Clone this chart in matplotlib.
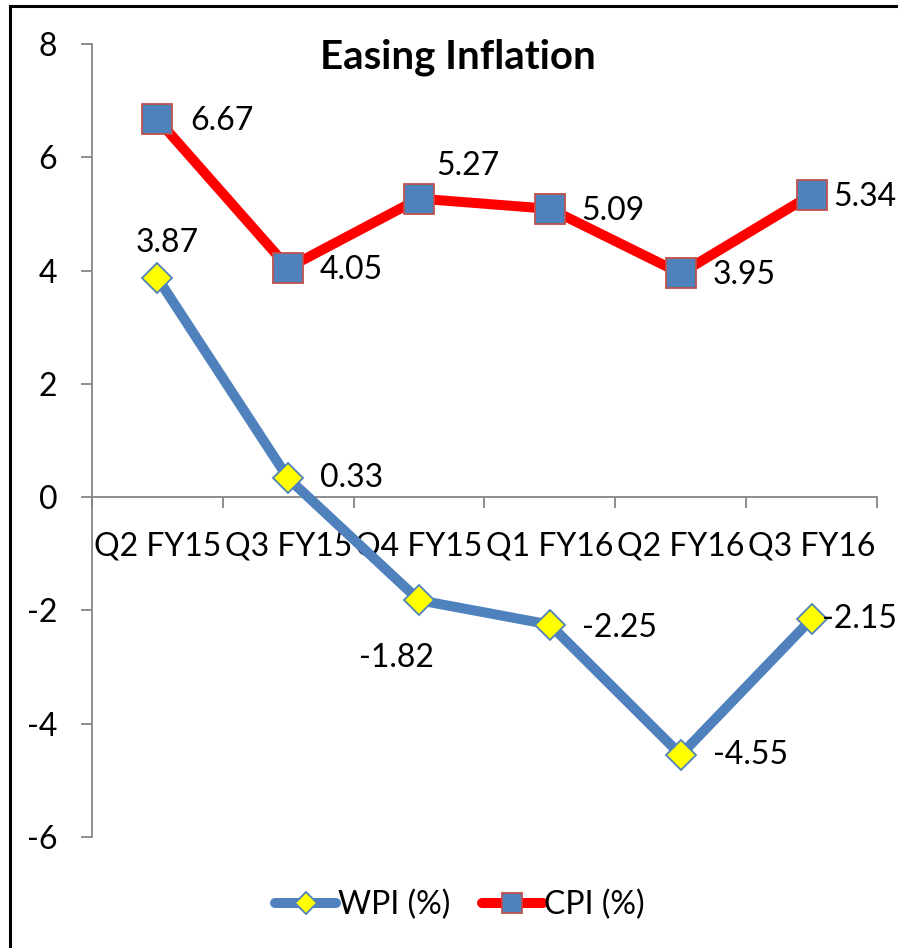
import matplotlib
matplotlib.use("Agg")
import matplotlib.pyplot as plt
from matplotlib.lines import Line2D
from matplotlib.ticker import FixedLocator

plt.rcParams['font.family'] = ['Lato', 'DejaVu Sans']
plt.rcParams['axes.unicode_minus'] = False

quarters = ["Q2 FY15", "Q3 FY15", "Q4 FY15", "Q1 FY16", "Q2 FY16", "Q3 FY16"]
wpi = [3.87, 0.33, -1.82, -2.25, -4.55, -2.15]
cpi = [6.67, 4.05, 5.27, 5.09, 3.95, 5.34]

# label placement: (dx px, dy px, horizontal alignment)
wpi_label_pos = [(10, 35, 'center'), (32, 0, 'left'), (-23, -58, 'center'),
                 (32, -3, 'left'), (32, 0, 'left'), (10, 0, 'left')]
cpi_label_pos = [(33, -2, 'left'), (31, -2, 'left'), (17, 33, 'left'),
                 (31, -2, 'left'), (32, -2, 'left'), (22, -2, 'left')]

BLUE = '#4F81BD'
RED = '#FF0000'
AXIS_GRAY = '#868686'
FS = 23

fig = plt.figure(figsize=(8.98, 9.48), dpi=100)
ax = fig.add_axes([92/898, 1 - 837/948, (877-92)/898, (837-44)/948])

x = list(range(len(quarters)))
ax.plot(x, wpi, color=BLUE, lw=7.2, marker='D', ms=14.8, mfc='#FFFF00',
        mec=BLUE, mew=1.3, solid_capstyle='round', solid_joinstyle='round', zorder=3)
ax.plot(x, cpi, color=RED, lw=7.2, marker='s', ms=21, mfc=BLUE,
        mec='#C0504D', mew=1.3, solid_capstyle='round', solid_joinstyle='round', zorder=3)

for xi, v, (dx, dy, ha) in zip(x, wpi, wpi_label_pos):
    ax.annotate(f"{v:.2f}", (xi, v), xytext=(dx, dy), textcoords='offset pixels',
                ha=ha, va='center', fontsize=FS, zorder=4)
for xi, v, (dx, dy, ha) in zip(x, cpi, cpi_label_pos):
    ax.annotate(f"{v:.2f}", (xi, v), xytext=(dx, dy), textcoords='offset pixels',
                ha=ha, va='center', fontsize=FS, zorder=4)

ax.set_xlim(-0.5, len(quarters) - 0.5)
ax.set_ylim(-6, 8)
ax.set_yticks(range(-6, 9, 2))
ax.tick_params(axis='y', direction='out', length=8, width=1.3, color=AXIS_GRAY,
               labelsize=FS, pad=17)

ax.set_xticks(x)
ax.set_xticklabels(quarters)
ax.xaxis.set_minor_locator(FixedLocator([i - 0.5 for i in range(len(quarters) + 1)]))
ax.tick_params(axis='x', which='major', length=0, labelsize=FS, pad=25)
ax.tick_params(axis='x', which='minor', direction='out', length=8, width=1.3, color=AXIS_GRAY)

for side in ('top', 'right'):
    ax.spines[side].set_visible(False)
ax.spines['bottom'].set_position(('data', 0))
ax.spines['left'].set_color(AXIS_GRAY)
ax.spines['bottom'].set_color(AXIS_GRAY)
ax.spines['left'].set_linewidth(1.3)
ax.spines['bottom'].set_linewidth(1.3)

fig.text(458/898, 1 - 57/948, "Easing Inflation", ha='center', va='center',
         fontsize=29, fontweight='bold')

handles = [
    Line2D([], [], color=BLUE, lw=7.2, marker='D', ms=11, mfc='#FFFF00', mec=BLUE, mew=1.3,
           solid_capstyle='round'),
    Line2D([], [], color=RED, lw=7.2, marker='s', ms=15, mfc=BLUE, mec='#C0504D', mew=1.3,
           solid_capstyle='round'),
]
fig.legend(handles, ["WPI (%)", "CPI (%)"], loc='center', ncol=2,
           bbox_to_anchor=(460/898, 1 - 905/948), frameon=False, fontsize=FS,
           handlelength=1.9, handletextpad=0.05, columnspacing=1.0)

# chart area border (top and left edges)
fig.add_artist(Line2D([10/898, 10/898], [0, 1 - 6/948], color='black', lw=2.2,
                      transform=fig.transFigure))
fig.add_artist(Line2D([10/898, 1], [1 - 6/948, 1 - 6/948], color='black', lw=2.2,
                      transform=fig.transFigure))

fig.savefig("out.png", dpi=100)
